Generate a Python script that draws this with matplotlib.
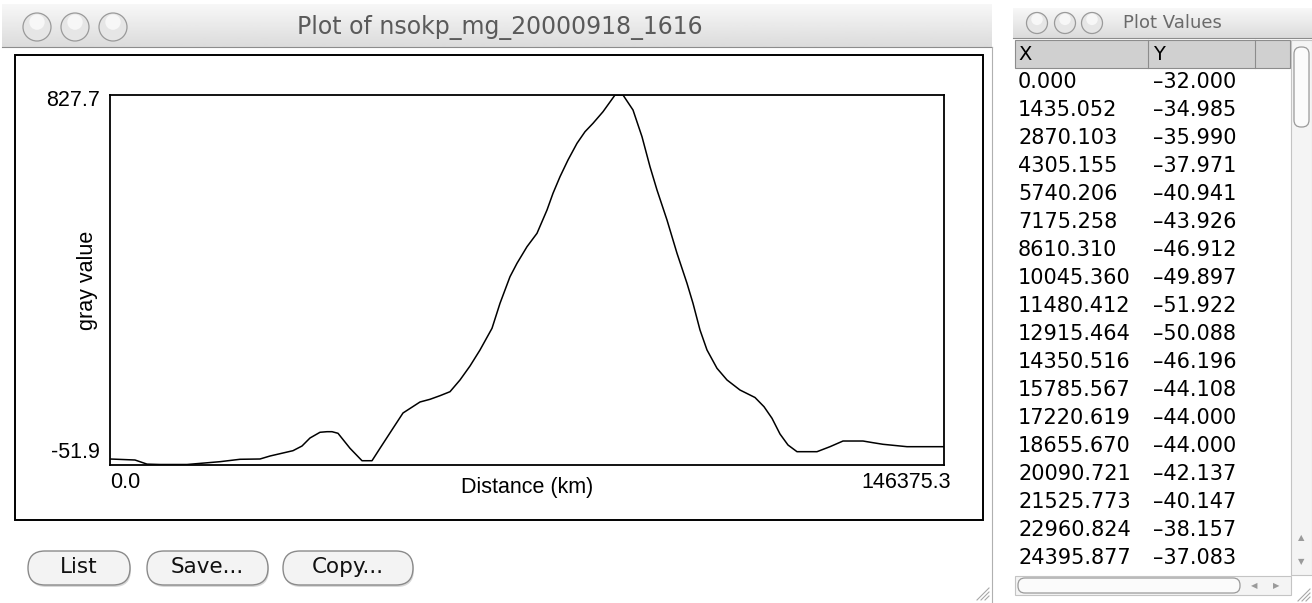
import matplotlib
matplotlib.use("Agg")
import matplotlib.pyplot as plt
from matplotlib.patches import Rectangle, FancyBboxPatch, Circle
import numpy as np

# profile: distance (km) and gray value
distance_km = [0, 4388, 6494, 8776, 13514, 19307, 22817, 26327, 28082, 32118,
               33698, 35102, 36857, 38086, 38963, 40016, 42122, 44229, 45984, 47388,
               49669, 51424, 54408, 56163, 57918, 59673, 61429, 63184, 64939, 67045,
               68449, 70204, 71433, 73188, 74943, 76698, 77751, 78980, 80384, 81963,
               83367, 84771, 86526, 88633, 90037, 91792, 93371, 94775, 96004, 97759,
               99514, 101269, 102322, 103551, 104779, 106534, 108289, 110571, 113204, 114784,
               116188, 117592, 118996, 120575, 124086, 126367, 128649, 132159, 133914, 135669,
               139882, 146375]
gray_value = [-38.8, -41.2, -51.0, -51.9, -51.9, -45.2, -39.5, -38.8, -31.7, -19.0,
              -7.9, 11.2, 24.8, 26.2, 26.2, 22.4, -13.3, -42.9, -42.9, -13.3,
              34.3, 70.7, 96.9, 103.3, 111.9, 121.4, 149.3, 182.6, 220.7, 272.3,
              331.8, 395.2, 427.1, 466.6, 498.5, 553.9, 593.7, 633.2, 673.0, 712.7,
              740.3, 760.3, 787.9, 827.7, 827.7, 792.0, 728.4, 657.0, 601.5, 530.1,
              450.9, 379.4, 331.8, 268.3, 220.7, 177.1, 149.3, 125.4, 107.6, 85.7,
              58.1, 20.7, -5.5, -21.4, -21.4, -9.5, 4.0, 4.0, 0.0, -3.8,
              -9.5, -9.5]

x_min, x_max = 0.0, 146375.3
y_min, y_max = -51.9, 827.7
window_title = "Plot of nsokp_mg_20000918_1616"
x_label = "Distance (km)"
y_label = "gray value"
button_labels = ["List", "Save...", "Copy..."]

# "Plot Values" table
table_title = "Plot Values"
table_x = ["0.000", "1435.052", "2870.103", "4305.155", "5740.206", "7175.258",
           "8610.310", "10045.360", "11480.412", "12915.464", "14350.516", "15785.567",
           "17220.619", "18655.670", "20090.721", "21525.773", "22960.824", "24395.877"]
table_y = [-32.000, -34.985, -35.990, -37.971, -40.941, -43.926, -46.912, -49.897, -51.922,
           -50.088, -46.196, -44.108, -44.000, -44.000, -42.137, -40.147, -38.157, -37.083]

W, H = 1312, 603
fig = plt.figure(figsize=(W / 100, H / 100), dpi=100)
fig.patch.set_facecolor("white")

# background axes in pixel units for the window chrome
bg = fig.add_axes([0, 0, 1, 1])
bg.set_zorder(0)


def title_bar(x0, x1, y0, y1):
    grad = np.linspace(0.97, 0.86, 64)[:, None]
    bg.imshow(grad, cmap="gray", vmin=0, vmax=1, aspect="auto",
              extent=(x0, x1, y1, y0), interpolation="bilinear", zorder=1)
    bg.plot([x0, x1], [y1, y1], color="#8c8c8c", lw=0.8, zorder=2)


def traffic_lights(xs, y, r):
    for cx in xs:
        bg.add_patch(Circle((cx, y), r, facecolor="#e6e6e6", edgecolor="#9a9a9a",
                            lw=0.9, zorder=3))
        bg.add_patch(Circle((cx, y - r * 0.35), r * 0.55, facecolor="#f7f7f7",
                            edgecolor="none", zorder=3))


def resize_grip(x, y):
    for d in (4, 8, 12):
        bg.plot([x - d, x], [y, y - d], color="#a8a8a8", lw=0.8, zorder=3)


# left window (plot)
title_bar(2, 992, 4, 47)
traffic_lights([37, 75, 113], 27, 14)
bg.text(500, 27, window_title, ha="center", va="center", fontsize=17,
        color="#5a5a5a", family="DejaVu Sans", zorder=4)
bg.plot([992, 992], [47, 603], color="#b0b0b0", lw=0.8, zorder=2)
bg.add_patch(Rectangle((15, 55), 968, 465, facecolor="white", edgecolor="black",
                       lw=1.4, zorder=2))

button_boxes = [(28, 102), (147, 121), (283, 130)]
for (bx, bw), label in zip(button_boxes, button_labels):
    bg.add_patch(FancyBboxPatch((bx + 1, 553), bw, 34, boxstyle="round,pad=0,rounding_size=17",
                                facecolor="#d8d8d8", edgecolor="none",
                                mutation_aspect=1, zorder=3))
    bg.add_patch(FancyBboxPatch((bx, 551), bw, 34, boxstyle="round,pad=0,rounding_size=17",
                                facecolor="#f3f3f3", edgecolor="#8a8a8a", lw=1.0,
                                mutation_aspect=1, zorder=3))
    bg.text(bx + bw / 2, 567, label, ha="center", va="center", fontsize=15.5,
            color="#111111", family="DejaVu Sans", zorder=4)
resize_grip(989, 600)

# right window (table)
title_bar(1013, 1312, 8, 38)
traffic_lights([1037, 1065, 1092], 23, 10.5)
bg.text(1123, 23, table_title, ha="left", va="center", fontsize=13,
        color="#6a6a6a", family="DejaVu Sans", zorder=4)
bg.add_patch(Rectangle((1015, 40), 275, 28, facecolor="#d0d0d0", edgecolor="#8c8c8c",
                       lw=0.8, zorder=2))
for cx in (1148, 1255):
    bg.plot([cx, cx], [40, 68], color="#8c8c8c", lw=0.8, zorder=3)
bg.text(1018, 54, "X", ha="left", va="center", fontsize=14, color="black",
        family="DejaVu Sans", zorder=4)
bg.text(1153, 54, "Y", ha="left", va="center", fontsize=14, color="black",
        family="DejaVu Sans", zorder=4)
for i, (xv, yv) in enumerate(zip(table_x, table_y)):
    ty = 82 + 28 * i
    bg.text(1018, ty, xv, ha="left", va="center", fontsize=15, color="black",
            family="DejaVu Sans", zorder=4)
    bg.text(1153, ty, f"{yv:.3f}".replace("-", "\u2013"), ha="left", va="center",
            fontsize=15, color="black", family="DejaVu Sans", zorder=4)

# scroll bars
bg.add_patch(Rectangle((1291, 40), 21, 535, facecolor="#f4f4f4", edgecolor="#c4c4c4",
                       lw=0.8, zorder=2))
bg.add_patch(FancyBboxPatch((1294, 47), 15, 80, boxstyle="round,pad=0,rounding_size=7",
                            facecolor="#fbfbfb", edgecolor="#9a9a9a", lw=0.9,
                            mutation_aspect=1, zorder=3))
bg.text(1301, 538, "\u25b2", ha="center", va="center", fontsize=6, color="#9a9a9a", zorder=4)
bg.text(1301, 562, "\u25bc", ha="center", va="center", fontsize=6, color="#9a9a9a", zorder=4)
bg.add_patch(Rectangle((1015, 576), 276, 19, facecolor="#f4f4f4", edgecolor="#c4c4c4",
                       lw=0.8, zorder=2))
bg.add_patch(FancyBboxPatch((1018, 578), 222, 15, boxstyle="round,pad=0,rounding_size=7",
                            facecolor="#fbfbfb", edgecolor="#9a9a9a", lw=0.9,
                            mutation_aspect=1, zorder=3))
bg.text(1254, 586, "\u25c0", ha="center", va="center", fontsize=6, color="#9a9a9a", zorder=4)
bg.text(1276, 586, "\u25b6", ha="center", va="center", fontsize=6, color="#9a9a9a", zorder=4)
resize_grip(1310, 601)

bg.set_xlim(0, W)
bg.set_ylim(H, 0)
bg.axis("off")

# the profile plot itself
left, right, top, bottom = 110, 944, 95, 464.5
ax = fig.add_axes([left / W, 1 - bottom / H, (right - left) / W, (bottom - top) / H])
ax.set_zorder(5)
ax.plot(distance_km, gray_value, color="black", lw=1.1)
ax.set_xlim(x_min, x_max)
ax.set_ylim(y_min, y_max)
ax.set_xticks([])
ax.set_yticks([])
for sp in ax.spines.values():
    sp.set_linewidth(1.3)
    sp.set_color("black")

font = dict(family="Liberation Sans", fontsize=15.5, color="black")
fig.text(100 / W, 1 - 101 / H, f"{y_max:.1f}", ha="right", va="center", **font)
fig.text(100 / W, 1 - 452 / H, f"{y_min:.1f}", ha="right", va="center", **font)
fig.text(110 / W, 1 - 482 / H, f"{x_min:.1f}", ha="left", va="center", **font)
fig.text(951 / W, 1 - 482 / H, f"{x_max:.1f}", ha="right", va="center", **font)
fig.text(527 / W, 1 - 487 / H, x_label, ha="center", va="center", **font)
fig.text(88 / W, 1 - 280 / H, y_label, ha="center", va="center", rotation=90, **font)

fig.savefig("out.png", dpi=100, facecolor="white")
